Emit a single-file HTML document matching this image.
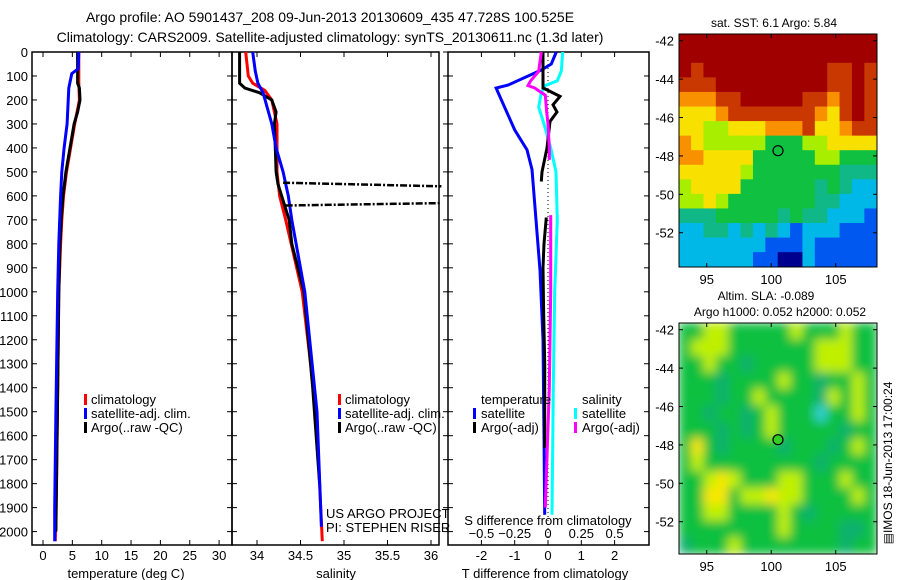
<!DOCTYPE html>
<html><head><meta charset="utf-8"><style>
html,body{margin:0;padding:0;background:#fff;}
svg{display:block;font-family:"Liberation Sans",sans-serif;}
</style></head><body>
<svg id="c" width="900" height="580" viewBox="0 0 900 580" xmlns="http://www.w3.org/2000/svg">
<defs><filter id="blur" x="0" y="0" width="1" height="1"><feGaussianBlur stdDeviation="5"/></filter>
<clipPath id="m2clip"><rect x="679" y="323" width="198" height="231"/></clipPath></defs>
<text x="330" y="22" font-size="14" text-anchor="middle">Argo profile: AO 5901437_208 09-Jun-2013 20130609_435 47.728S 100.525E</text>
<text x="330" y="42" font-size="14" text-anchor="middle">Climatology: CARS2009. Satellite-adjusted climatology: synTS_20130611.nc (1.3d later)</text>
</svg>
<script>
// ---- data ----
const depthTicks=[0,100,200,300,400,500,600,700,800,900,1000,1100,1200,1300,1400,1500,1600,1700,1800,1900,2000];
const tempTicks=[0,5,10,15,20,25,30];
const salTicks=[34,34.5,35,35.5,36];
const tdTicks=[-2,-1,0,1,2];
const sdTicks=[-0.5,-0.25,0,0.25,0.5];
const tArgoD=[0,130,150,200,250,300,400,500,600,700,800,1000,1400,1800,2000];
const tArgoV=[5.9,5.9,6.2,6.3,5.9,5.3,4.6,3.9,3.4,3.1,2.9,2.7,2.5,2.3,2.2];
const tClimD=[0,130,200,300,400,500,600,700,800,1000,1400,1800,2040];
const tClimV=[6.1,6.1,6.2,5.4,4.7,4.0,3.5,3.2,3.0,2.7,2.5,2.3,2.1];
const tSatD=[0,70,90,150,300,400,500,600,800,1000,1500,1900,2040];
const tSatV=[6.1,6.0,4.9,4.4,4.1,3.6,3.2,3.0,2.7,2.5,2.2,2.0,2.0];
const sArgoD=[0,130,150,170,200,250,300,400,500,550,700,800,1000,1400,1800];
const sArgoV=[33.8,33.8,33.86,34.03,34.17,34.22,34.2,34.21,34.22,34.24,34.37,34.4,34.54,34.64,34.72];
const sClimD=[0,100,130,160,200,300,500,600,700,1000,1500,2040];
const sClimV=[33.87,33.9,33.95,34.09,34.17,34.23,34.23,34.26,34.33,34.52,34.68,34.75];
const sSatD=[0,80,130,170,300,400,500,600,700,1000,1500,1980];
const sSatV=[33.95,33.98,34.01,34.07,34.17,34.22,34.3,34.36,34.4,34.55,34.69,34.74];
const spikeD=[[545,560],[640,630]];
const spikeS=[[34.3,36.12],[34.33,36.12]];
const dTSatD=[0,50,75,138,150,200,325,408,490,700,910,1200,1600,1930];
const dTSatV=[0.25,0.1,-0.2,-1.2,-1.56,-1.4,-1.0,-0.63,-0.48,-0.36,-0.24,-0.15,-0.12,-0.1];
const dTArgoD=[0,150,160,185,220,250,290,400,500,540];
const dTArgoV=[-0.15,-0.15,0.0,0.36,0.15,0.27,0.06,-0.03,-0.18,-0.2];
const dTArgoD2=[690,800,900,1100,1300,1650];
const dTArgoV2=[-0.05,-0.12,-0.15,-0.13,-0.1,-0.1];
const dSSatD=[0,80,120,140,170,230,300,400,500,700,1000,1400,1930];
const dSSatV=[0.11,0.1,0.07,-0.02,-0.05,-0.07,-0.03,0.02,0.06,0.07,0.05,0.04,0.03];
const dSArgoD=[0,80,120,140,150,180,250,300,400,450];
const dSArgoV=[-0.05,-0.07,-0.13,-0.15,-0.1,-0.02,-0.01,0,0.01,0.01];
const dSArgoD2=[680,1000,1400,1900];
const dSArgoV2=[0.02,0.02,0.01,-0.02];
const sstRows=["9999999999999999","9999999999999999","9899999999998898","8889999999998898","7778899999887898","6667888888876898","6655666777866788","7655555444556666","7766664444455444","6666654444444333","5666644444434322","5565444444433222","3334444434332221","2233232321222111","2222222111211111","2222221100211111"];
const slaRows=["4455444445444544","4555444444455544","4454434444455544","4443444454434454","4443445444435454","4434434544424454","4443434544444344","4643444434443454","4544444444434444","4456544455444544","4466455655444454","4455444454344444","4444444454444334","3444544444444344"];
const lonTicks=[95,100,105];
const latTicks=[-42,-44,-46,-48,-50,-52];
const floatLon=100.525, floatLat=-47.728;
// ---- helpers ----
const svg=document.getElementById('c');
const NS='http://www.w3.org/2000/svg';
function mk(tag,attrs,parent){const e=document.createElementNS(NS,tag);for(const k in attrs)e.setAttribute(k,attrs[k]);(parent||svg).appendChild(e);return e;}
const yD=d=>52+d*0.2398;
const xT=t=>43+t*5.87;
const xS=s=>257+(s-34)*87;
const xTD=t=>548+t*33.3;
const xSD=s=>548+s*133.2;
function line(ds,vs,xf,col,name,w){const p=ds.map((d,i)=>xf(vs[i]).toFixed(1)+','+yD(d).toFixed(1)).join(' ');const e=mk('polyline',{points:p,fill:'none',stroke:col,'stroke-width':w||3});

return e;}
function txt(x,y,s,t,anchor,name){const e=mk('text',{x:x,y:y,'font-size':s,'text-anchor':anchor||'start'});e.textContent=t;

return e;}
function frame(x0,x1,name){const r=mk('rect',{x:x0,y:52,width:x1-x0,height:493,fill:'none',stroke:'#000','stroke-width':1.5});

}
depthTicks.forEach(d=>{const y=yD(d);txt(28,y+5,13,String(d),'end','y-tick-label');
[[32,37],[227,237],[443,453],[644,649]].forEach(a=>mk('line',{x1:a[0],x2:a[1],y1:y,y2:y,stroke:'#000'}));});
frame(32,232,'temperature-panel');
tempTicks.forEach(t=>{const x=xT(t);mk('line',{x1:x,x2:x,y1:52,y2:57,stroke:'#000'});mk('line',{x1:x,x2:x,y1:540,y2:545,stroke:'#000'});txt(x,560,13,String(t),'middle','temp-tick-label');});
txt(126,578,13,'temperature (deg C)','middle','x-axis-title-temperature');
line(tClimD,tClimV,xT,'#f00','temp-climatology-line');
line(tArgoD,tArgoV,xT,'#000','temp-argo-line');
line(tSatD,tSatV,xT,'#00f','temp-satellite-line');
frame(232,439,'salinity-panel');
salTicks.forEach(s=>{const x=xS(s);mk('line',{x1:x,x2:x,y1:52,y2:57,stroke:'#000'});mk('line',{x1:x,x2:x,y1:540,y2:545,stroke:'#000'});txt(x,560,13,String(s),'middle','sal-tick-label');});
txt(336,578,13,'salinity','middle','x-axis-title-salinity');
line(sClimD,sClimV,xS,'#f00','sal-climatology-line');
line(sArgoD,sArgoV,xS,'#000','sal-argo-line');
line(sSatD,sSatV,xS,'#00f','sal-satellite-line');
spikeD.forEach((dd,i)=>{const e=line(dd,spikeS[i],xS,'#000','sal-argo-spike',2.5);e.setAttribute('stroke-dasharray','7,2,2,2');});
[[84,'#f00','climatology',404],[84,'#00f','satellite-adj. clim.',418],[84,'#000','Argo(..raw -QC)',432]].forEach(l=>{
mk('rect',{x:l[0],y:l[3]-10,width:3,height:11,fill:l[1]});txt(l[0]+7,l[3],13,l[2],'start','legend-entry-temp');
mk('rect',{x:l[0]+254,y:l[3]-10,width:3,height:11,fill:l[1]});txt(l[0]+261,l[3],13,l[2],'start','legend-entry-sal');});
txt(326,518,13,'US ARGO PROJECT','start','project-label');
txt(326,532,13,'PI: STEPHEN RISER','start','pi-label');
frame(448,649,'difference-panel');
mk('line',{x1:548,x2:548,y1:52,y2:545,stroke:'#000','stroke-dasharray':'1,3'});
tdTicks.forEach(t=>{const x=xTD(t);mk('line',{x1:x,x2:x,y1:52,y2:57,stroke:'#000'});mk('line',{x1:x,x2:x,y1:540,y2:545,stroke:'#000'});txt(x,560,13,String(t),'middle','tdiff-tick-label');});
line(dTSatD,dTSatV,xTD,'#00f','tdiff-satellite-line');
line(dSSatD,dSSatV,xSD,'#0ff','sdiff-satellite-line');
line(dTArgoD,dTArgoV,xTD,'#000','tdiff-argo-line');
line(dTArgoD2,dTArgoV2,xTD,'#000','tdiff-argo-line-deep');
line(dSArgoD,dSArgoV,xSD,'#f0f','sdiff-argo-line');
line(dSArgoD2,dSArgoV2,xSD,'#f0f','sdiff-argo-line-deep');
sdTicks.forEach(s=>txt(xSD(s),538,13,String(s).replace('-','\u2212'),'middle','sdiff-tick-label'));
txt(548,525,13,'S difference from climatology','middle','s-diff-axis-title');
txt(545,578,13,'T difference from climatology','middle','x-axis-title-tdiff');
txt(481,404,13,'temperature','start','legend-title-temperature');
txt(582,404,13,'salinity','start','legend-title-salinity');
[[473,'#00f','satellite',418],[473,'#000','Argo(-adj)',432]].forEach(l=>{mk('rect',{x:l[0],y:l[3]-10,width:3,height:11,fill:l[1]});txt(l[0]+8,l[3],13,l[2],'start','legend-entry-tdiff');});
[[574,'#0ff','satellite',418],[574,'#f0f','Argo(-adj)',432]].forEach(l=>{mk('rect',{x:l[0],y:l[3]-10,width:3,height:11,fill:l[1]});txt(l[0]+8,l[3],13,l[2],'start','legend-entry-sdiff');});
const jet=['#00008f','#0058f0','#00b8e8','#10b888','#10c040','#a8ee00','#f8e000','#f89000','#c83800','#a00000'];
const slaCol=['#00008f','#0050ff','#30d0d0','#10b070','#10c040','#c0f000','#f8e800','#f0a000','#d04000','#a00000'];
function drawMap(top,bottom,rows,cols,name,blur){
const X0=679,X1=877,lonL=92.85,lonR=108.2,latT=-41.65;
const ppd=19.2; const yL=la=>top+( latT-la)*ppd; const xL=lo=>X0+(lo-lonL)*(X1-X0)/(lonR-lonL);
const g=mk('g',blur?{'clip-path':'url(#m2clip)'}:{});


const inner=mk('g',blur?{filter:'url(#blur)'}:{},g);
const nr=rows.length,nc=rows[0].length,cw=(X1-X0)/nc,ch=(bottom-top)/nr;
if(blur)mk('rect',{x:X0,y:top,width:X1-X0,height:bottom-top,fill:cols[4]},inner);
rows.forEach((r,i)=>{for(let j=0;j<nc;j++){mk('rect',{x:X0+j*cw-0.3,y:top+i*ch-0.3,width:cw+0.6,height:ch+0.6,fill:cols[+r[j]]},inner);}});
mk('rect',{x:X0,y:top,width:X1-X0,height:bottom-top,fill:'none',stroke:'#000'});
lonTicks.forEach(l=>{const x=xL(l);mk('line',{x1:x,x2:x,y1:top,y2:top+4,stroke:'#000'});mk('line',{x1:x,x2:x,y1:bottom-4,y2:bottom,stroke:'#000'});txt(x,bottom+17,13,String(l),'middle','lon-tick-label');});
latTicks.forEach(l=>{const y=yL(l);mk('line',{x1:X0,x2:X0+4,y1:y,y2:y,stroke:'#000'});mk('line',{x1:X1-4,x2:X1,y1:y,y2:y,stroke:'#000'});txt(X0-5,y+5,13,String(l),'end','lat-tick-label');});
const c=mk('circle',{cx:xL(floatLon),cy:yL(floatLat),r:5,fill:blur?'#30d020':'none',stroke:'#000','stroke-width':1.2});

}
drawMap(34,267,sstRows,jet,'sst-map',false);
drawMap(323,554,slaRows,slaCol,'sla-map',true);
txt(774,27,12,'sat. SST: 6.1  Argo: 5.84','middle','sst-map-title');
txt(766,300,12,'Altim. SLA: -0.089','middle','sla-map-title');
txt(780,316,12,'Argo h1000: 0.052 h2000: 0.052','middle','sla-map-subtitle');
const v=txt(0,0,12,'\u25A4IMOS 18-Jun-2013 17:00:24','middle','timestamp-label');
v.setAttribute('transform','translate(892,463) rotate(-90)');
</script>
</body></html>
